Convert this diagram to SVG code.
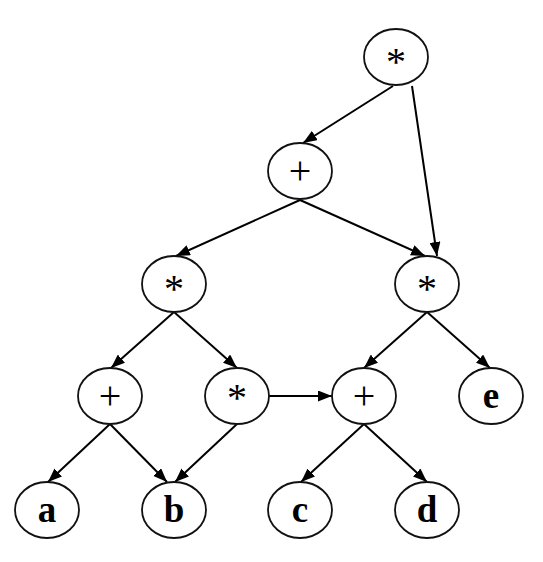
<svg xmlns="http://www.w3.org/2000/svg" width="543" height="562" viewBox="0 0 543 562">
<style>
.node ellipse{fill:#fff;stroke:#111;stroke-width:1.8}
.op{font-family:"Liberation Serif","Times New Roman",serif;font-size:40px;fill:#000;text-anchor:middle}
.leaf{font-family:"Liberation Serif","Times New Roman",serif;font-size:37px;font-weight:bold;fill:#000;text-anchor:middle}
.edges line{stroke:#000;stroke-width:2;marker-end:url(#arr)}
</style>
<defs>
<marker id="arr" markerUnits="userSpaceOnUse" markerWidth="14" markerHeight="11" refX="14" refY="5.5" orient="auto">
<path d="M0,0 L14,5.5 L0,11 z" fill="#000"/>
</marker>
</defs>
<rect width="543" height="562" fill="#fff"/>
<g id="connectors" class="edges">
<line x1="393" y1="86" x2="303" y2="143"/>
<line x1="412" y1="86" x2="437" y2="256"/>
<line x1="300" y1="200" x2="176" y2="256"/>
<line x1="300" y1="200" x2="425" y2="256"/>
<line x1="174" y1="312" x2="111" y2="368"/>
<line x1="174" y1="312" x2="237" y2="368"/>
<line x1="427" y1="312" x2="364" y2="368"/>
<line x1="427" y1="312" x2="490" y2="368"/>
<line x1="110" y1="424" x2="48" y2="482"/>
<line x1="110" y1="424" x2="167" y2="482"/>
<line x1="237" y1="424" x2="175" y2="482"/>
<line x1="269" y1="396" x2="332" y2="396"/>
<line x1="364" y1="424" x2="301" y2="482"/>
<line x1="364" y1="424" x2="427" y2="482"/>
</g>
<g id="n-root" class="node"><ellipse cx="396" cy="57" rx="32" ry="28"/><text class="op" x="396" y="75">*</text></g>
<g id="n-plus1" class="node"><ellipse cx="300" cy="171" rx="32" ry="28"/><text class="op" x="300" y="184">+</text></g>
<g id="n-mulL" class="node"><ellipse cx="174" cy="284" rx="32" ry="28"/><text class="op" x="174" y="302">*</text></g>
<g id="n-mulR" class="node"><ellipse cx="427" cy="284" rx="32" ry="28"/><text class="op" x="427" y="302">*</text></g>
<g id="n-plus2" class="node"><ellipse cx="110" cy="396" rx="32" ry="28"/><text class="op" x="110" y="409">+</text></g>
<g id="n-mul3" class="node"><ellipse cx="237" cy="396" rx="32" ry="28"/><text class="op" x="237" y="411">*</text></g>
<g id="n-plus3" class="node"><ellipse cx="364" cy="396" rx="32" ry="28"/><text class="op" x="364" y="409">+</text></g>
<g id="n-e" class="node"><ellipse cx="491" cy="396" rx="32" ry="28"/><text class="leaf" x="491" y="408">e</text></g>
<g id="n-a" class="node"><ellipse cx="47" cy="510" rx="32" ry="28"/><text class="leaf" x="47" y="522">a</text></g>
<g id="n-b" class="node"><ellipse cx="174" cy="510" rx="32" ry="28"/><text class="leaf" x="174" y="522">b</text></g>
<g id="n-c" class="node"><ellipse cx="300" cy="510" rx="32" ry="28"/><text class="leaf" x="300" y="522">c</text></g>
<g id="n-d" class="node"><ellipse cx="427" cy="510" rx="32" ry="28"/><text class="leaf" x="427" y="522">d</text></g>
</svg>
